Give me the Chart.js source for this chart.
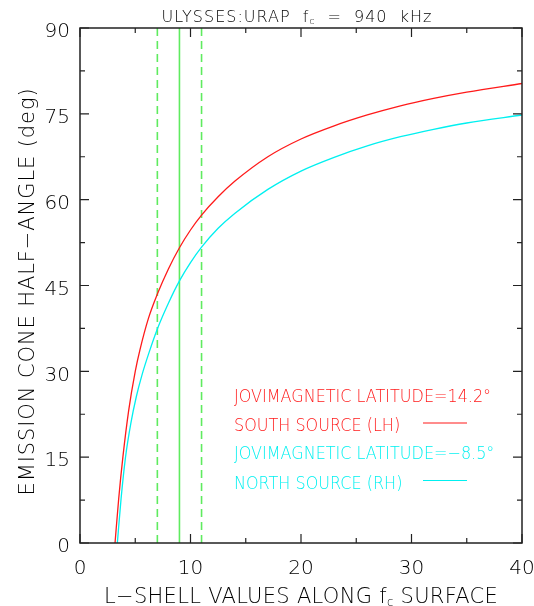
<!DOCTYPE html>
<html>
<head>
<meta charset="utf-8">
<script src="https://cdn.jsdelivr.net/npm/chart.js@4.4.1/dist/chart.umd.min.js"></script>
<style>
  html, body { margin: 0; padding: 0; background: #fff; }
  canvas { display: block; }
</style>
</head>
<body>
<canvas id="myChart" width="534" height="606"></canvas>
<script>
//
// DATA
//
const lShellSouth = [3.17, 3.5, 3.88, 4.4, 5.0, 5.43, 6.2, 7, 8, 9, 10, 11, 12.5, 14, 17, 20, 23, 26, 29, 32, 35, 40];
const angleSouth  = [0, 7.7, 15, 23.1, 30.0, 33.8, 39.3, 43.5, 47.9, 51.6, 54.7, 57.3, 60.5, 63.2, 67.5, 70.6, 72.9, 74.8, 76.4, 77.7, 78.8, 80.3];

const lShellNorth = [3.38, 3.72, 4.12, 4.6, 5.1, 5.6, 6.2, 7, 8, 9, 10, 11, 12.5, 14, 17, 20, 23, 26, 29, 32, 35, 40];
const angleNorth  = [0, 7.8, 15, 20.9, 25.6, 29.3, 33.0, 37.4, 41.9, 45.8, 49.0, 51.7, 55.0, 57.6, 61.8, 65.0, 67.4, 69.4, 71.0, 72.3, 73.4, 74.8];

// vertical markers: L of f_c crossing (solid) and its range (dashed)
const markerSolid = [9];
const markerDashed = [7, 11];

const xTicks = [0, 10, 20, 30, 40];
const yTicks = [0, 15, 30, 45, 60, 75, 90];

const titleParts = [['ULYSSES:URAP  f', false], ['c', true], ['  =  940  kHz', false]];
const xTitleParts = [['L\u2212SHELL VALUES ALONG f', false], ['c', true], [' SURFACE', false]];
const yTitle = 'EMISSION CONE HALF\u2212ANGLE (deg)';

const legendSouth = ['JOVIMAGNETIC LATITUDE=14.2\u00b0', 'SOUTH SOURCE (LH)'];
const legendNorth = ['JOVIMAGNETIC LATITUDE=\u22128.5\u00b0', 'NORTH SOURCE (RH)'];

const RED = '#ff1a1a';
const CYAN = '#00f0f0';
const GREEN = 'rgb(95,235,95)';
const INK = '#000';
const FONT = '"DejaVu Sans", sans-serif';
const W = '200 ';   // thin strokes, like the plotting font

function toXY(xs, ys) {
    return xs.map((x, i) => ({ x: x, y: ys[i] }));
}

function vline(x, dashed) {
    return {
        data: [{ x: x, y: 0 }, { x: x, y: 90 }],
        borderColor: GREEN,
        borderWidth: 1.6,
        borderDash: dashed ? [8, 5] : [],
        pointRadius: 0,
        fill: false,
    };
}

//
// draw text pieces with subscripts, centred on cx
//
function drawParts(ctx, parts, cx, y, size) {
    let total = 0;
    parts.forEach(p => {
        ctx.font = W + (p[1] ? size * 0.55 : size) + 'px ' + FONT;
        total += ctx.measureText(p[0]).width;
    });
    let x = cx - total / 2;
    parts.forEach(p => {
        ctx.font = W + (p[1] ? size * 0.55 : size) + 'px ' + FONT;
        ctx.fillText(p[0], x, p[1] ? y + size * 0.12 : y);
        x += ctx.measureText(p[0]).width;
    });
}

//
// frame, inward ticks, titles and legend
//
const decorPlugin = {
    id: 'decor',
    afterDraw(chart) {
        const ctx = chart.ctx;
        const ca = chart.chartArea;
        const sx = chart.scales.x;
        const sy = chart.scales.y;
        ctx.save();

        // frame
        ctx.strokeStyle = '#222';
        ctx.lineWidth = 1.5;
        ctx.strokeRect(ca.left, ca.top, ca.right - ca.left, ca.bottom - ca.top);

        // ticks (major + minor) on all four sides
        ctx.lineWidth = 1.2;
        ctx.beginPath();
        for (let i = 0; i < xTicks.length; i++) {
            const vals = [[xTicks[i], 9]];
            if (i < xTicks.length - 1) vals.push([(xTicks[i] + xTicks[i + 1]) / 2, 5]);
            vals.forEach(v => {
                const px = sx.getPixelForValue(v[0]);
                ctx.moveTo(px, ca.bottom); ctx.lineTo(px, ca.bottom - v[1]);
                ctx.moveTo(px, ca.top); ctx.lineTo(px, ca.top + v[1]);
            });
        }
        for (let i = 0; i < yTicks.length; i++) {
            const vals = [[yTicks[i], 9]];
            if (i < yTicks.length - 1) vals.push([(yTicks[i] + yTicks[i + 1]) / 2, 5]);
            vals.forEach(v => {
                const py = sy.getPixelForValue(v[0]);
                ctx.moveTo(ca.left, py); ctx.lineTo(ca.left + v[1], py);
                ctx.moveTo(ca.right, py); ctx.lineTo(ca.right - v[1], py);
            });
        }
        ctx.stroke();

        // titles
        ctx.fillStyle = INK;
        ctx.textBaseline = 'alphabetic';
        ctx.textAlign = 'left';
        ctx.letterSpacing = '1px';
        drawParts(ctx, titleParts, 297, 22, 16);
        ctx.letterSpacing = '0.3px';
        drawParts(ctx, xTitleParts, (ca.left + ca.right) / 2, 603, 21);

        ctx.save();
        ctx.translate(34, (ca.top + ca.bottom) / 2 + 6);
        ctx.rotate(-Math.PI / 2);
        ctx.textAlign = 'center';
        ctx.letterSpacing = '0.9px';
        ctx.font = W + '21px ' + FONT;
        ctx.fillText(yTitle, 0, 0);
        ctx.restore();

        // legend (slightly condensed like the plotting font)
        const lx = ca.left + 154;
        ctx.letterSpacing = '0px';
        ctx.lineWidth = 1.2;
        [[legendSouth, RED, 401.5], [legendNorth, CYAN, 459]].forEach(item => {
            ctx.fillStyle = item[1];
            ctx.strokeStyle = item[1];
            [0, 1].forEach(k => {
                ctx.save();
                ctx.translate(lx, item[2] + k * 29.5);
                ctx.scale(0.89, 1);
                ctx.font = W + '18px ' + FONT;
                ctx.fillText(item[0][k], 0, 0);
                ctx.restore();
            });
            ctx.beginPath();
            ctx.moveTo(ca.left + 343, item[2] + 21.5);
            ctx.lineTo(ca.left + 387, item[2] + 21.5);
            ctx.stroke();
        });

        ctx.restore();
    }
};

//
// CHART
//
const myChart = new Chart(document.getElementById('myChart').getContext('2d'), {
    type: 'line',
    data: {
        datasets: [
            {
                label: legendSouth[1],
                data: toXY(lShellSouth, angleSouth),
                borderColor: RED,
                borderWidth: 1.3,
                pointRadius: 0,
                cubicInterpolationMode: 'monotone',
                fill: false,
            },
            {
                label: legendNorth[1],
                data: toXY(lShellNorth, angleNorth),
                borderColor: CYAN,
                borderWidth: 1.3,
                pointRadius: 0,
                cubicInterpolationMode: 'monotone',
                fill: false,
            },
            vline(markerDashed[0], true),
            vline(markerSolid[0], false),
            vline(markerDashed[1], true),
        ]
    },
    options: {
        responsive: false,
        animation: false,
        devicePixelRatio: 1,
        layout: {
            padding: { top: 28, right: 12, left: 0, bottom: 0 },
        },
        plugins: {
            legend: { display: false },
            tooltip: { enabled: false },
        },
        scales: {
            x: {
                type: 'linear',
                min: 0,
                max: 40,
                afterBuildTicks: s => { s.ticks = xTicks.map(v => ({ value: v })); },
                afterFit: s => { s.height = 63; s.paddingLeft = 0; s.paddingRight = 0; },
                grid: { display: false, drawTicks: false },
                border: { display: false },
                ticks: {
                    color: INK,
                    font: { family: FONT, size: 20, weight: 200 },
                    padding: 14,
                    maxRotation: 0,
                },
            },
            y: {
                type: 'linear',
                min: 0,
                max: 90,
                afterBuildTicks: s => { s.ticks = yTicks.map(v => ({ value: v })); },
                afterFit: s => { s.width = 80; s.paddingTop = 0; s.paddingBottom = 0; },
                grid: { display: false, drawTicks: false },
                border: { display: false },
                ticks: {
                    color: INK,
                    font: { family: FONT, size: 20, weight: 200 },
                    padding: 10,
                    labelOffset: 4,
                },
            },
        },
    },
    plugins: [decorPlugin],
});
</script>
</body>
</html>
